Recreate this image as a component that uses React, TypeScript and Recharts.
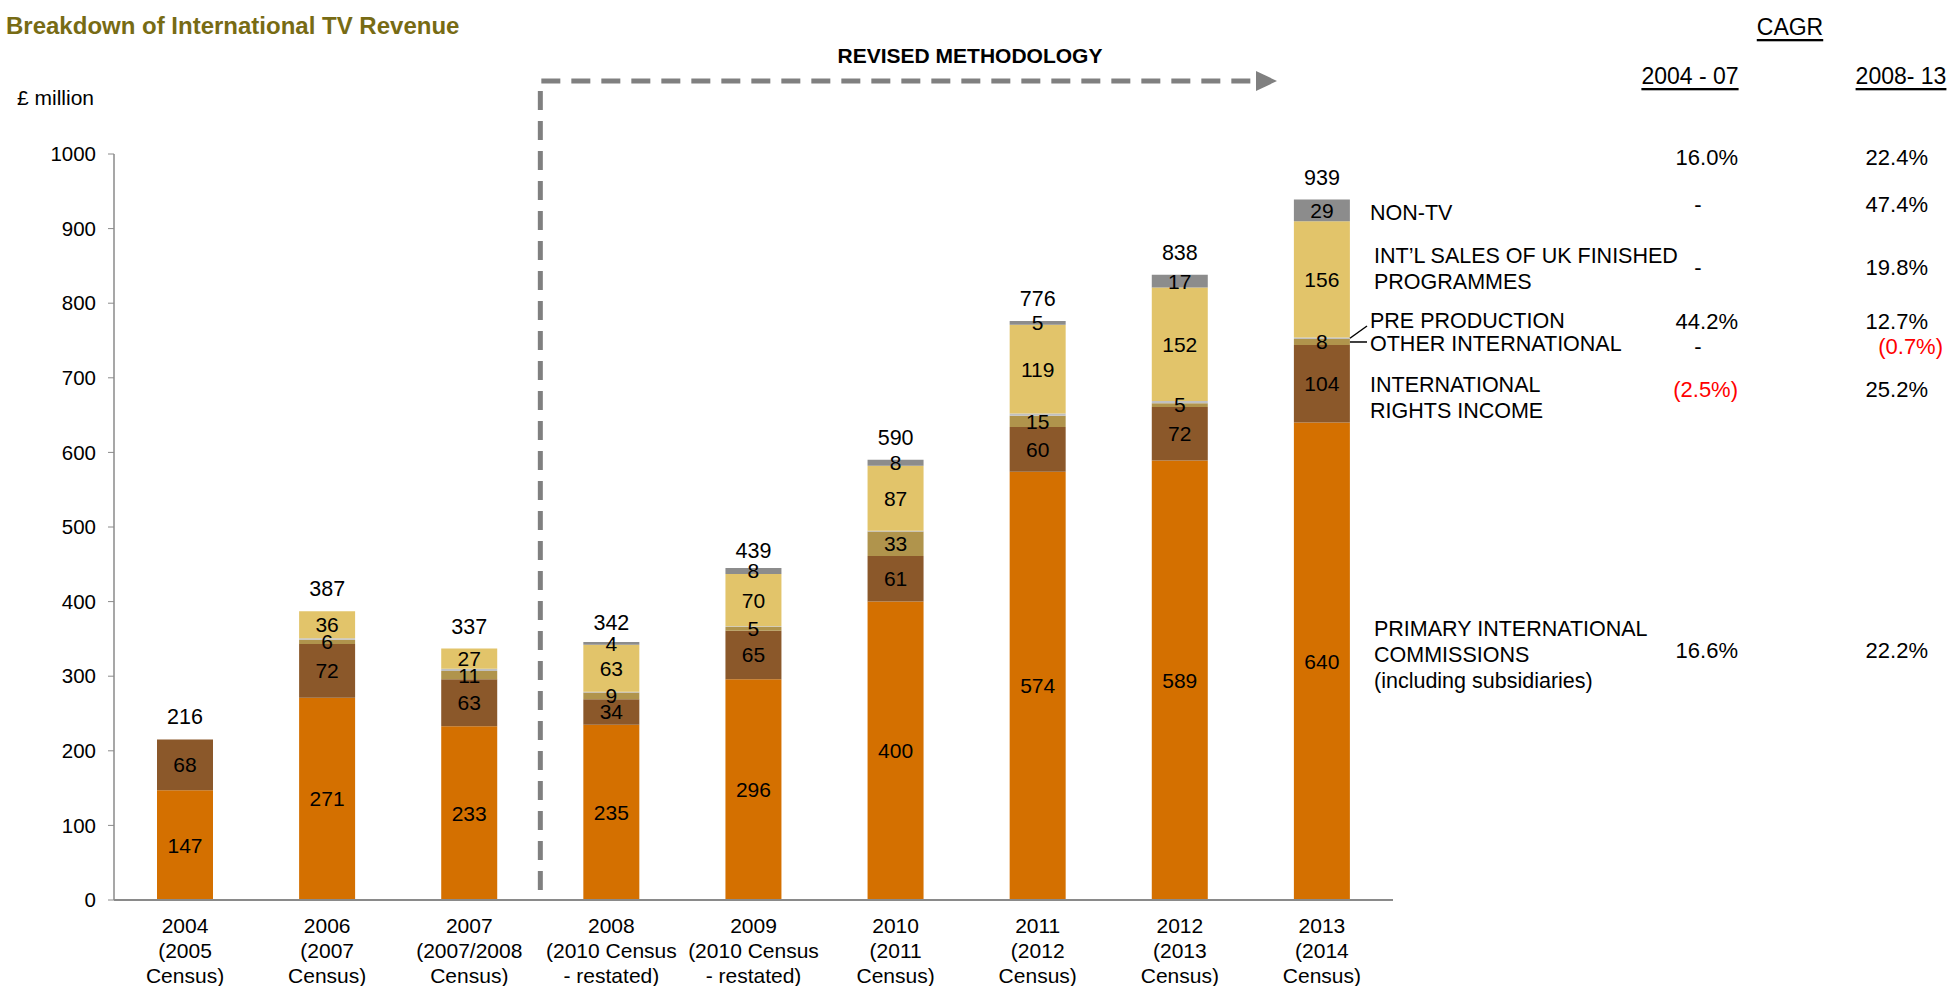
import { ComposedChart, Bar, Line, XAxis, YAxis, LabelList } from 'recharts'

// Revenue by year, £ million, stacked bottom to top
const years = ['2004', '2006', '2007', '2008', '2009', '2010', '2011', '2012', '2013']
const censusLine1 = ['(2005', '(2007', '(2007/2008', '(2010 Census', '(2010 Census', '(2011', '(2012', '(2013', '(2014']
const censusLine2 = ['Census)', 'Census)', 'Census)', '- restated)', '- restated)', 'Census)', 'Census)', 'Census)', 'Census)']

const primary = [147, 271, 233, 235, 296, 400, 574, 589, 640]
const rights = [68, 72, 63, 34, 65, 61, 60, 72, 104]
const otherIntl = [0, 6, 11, 9, 5, 33, 15, 5, 8]
const preProduction = [0, 2, 3, 1, 1, 1, 3, 3, 2]
const intlSales = [0, 36, 27, 63, 70, 87, 119, 152, 156]
const nonTv = [0, 0, 0, 4, 8, 8, 5, 17, 29]
const totals = [216, 387, 337, 342, 439, 590, 776, 838, 939]

const yTicks = [0, 100, 200, 300, 400, 500, 600, 700, 800, 900, 1000]

// CAGR side table
const cagrTotal = ['16.0%', '22.4%']
const cagrNonTv = ['-', '47.4%']
const cagrSales = ['-', '19.8%']
const cagrPre = ['44.2%', '12.7%']
const cagrOther = ['-', '(0.7%)']
const cagrRights = ['(2.5%)', '25.2%']
const cagrPrimary = ['16.6%', '22.2%']

const COLORS = {
  primary: '#d47000',
  rights: '#8b582a',
  other: '#b0944c',
  pre: '#c0c0c0',
  sales: '#e2c46a',
  nonTv: '#8c8c8c',
}

const W = 1949
const H = 986
const PLOT_LEFT = 114
const PLOT_RIGHT = 1393
const PLOT_TOP = 154
const PLOT_BOTTOM = 900
const BAR = 56
const FONT = '"Liberation Sans", Arial, sans-serif'

const data = years.map((y, i) => ({
  year: y,
  primary: primary[i],
  rights: rights[i],
  other: otherIntl[i],
  pre: preProduction[i],
  sales: intlSales[i],
  nonTv: nonTv[i],
  total: totals[i],
}))

const band = (PLOT_RIGHT - PLOT_LEFT) / years.length
const yOf = (v: number) => PLOT_BOTTOM - (v / 1000) * (PLOT_BOTTOM - PLOT_TOP)
const hideZero = (v: any) => (v ? v : '')

const CategoryTick = ({ x, y, payload }: any) => {
  const i = years.indexOf(payload.value)
  return (
    <text x={x} y={y} textAnchor="middle" fontSize={21} fill="#000" fontFamily={FONT}>
      <tspan x={x} dy={33}>{payload.value}</tspan>
      <tspan x={x} dy={25}>{censusLine1[i]}</tspan>
      <tspan x={x} dy={25}>{censusLine2[i]}</tspan>
    </text>
  )
}

const COL1 = 1738
const COL2 = 1928

function CagrRow({ y, vals }: { y: number; vals: string[] }) {
  const isNeg = (s: string) => s.startsWith('(')
  const cell = (s: string, right: number, center: number, hang: number) =>
    s === '-' ? (
      <text x={center} y={y} textAnchor="middle" fill="#000">-</text>
    ) : (
      <text x={isNeg(s) ? right + hang : right} y={y} textAnchor="end" fill={isNeg(s) ? '#ff0000' : '#000'}>{s}</text>
    )
  return (
    <g fontSize={22} dominantBaseline="central">
      {cell(vals[0], COL1, 1698, 0)}
      {cell(vals[1], COL2, 1888, 15)}
    </g>
  )
}

function Annotations() {
  const last = years.length - 1
  const barRight = PLOT_LEFT + (last + 0.5) * band + BAR / 2
  const preMid = yOf(primary[last] + rights[last] + otherIntl[last] + preProduction[last] / 2)
  const otherMid = yOf(primary[last] + rights[last] + otherIntl[last] / 2)
  const splitX = PLOT_LEFT + 3 * band
  return (
    <svg width={W} height={H} style={{ position: 'absolute', left: 0, top: 0, pointerEvents: 'none', fontFamily: FONT }}>
      <text x={6} y={25} fontSize={24} fontWeight="bold" fill="#776b14" dominantBaseline="central">
        Breakdown of International TV Revenue
      </text>
      <text x={17} y={97} fontSize={21} fill="#000" dominantBaseline="central">£ million</text>

      {/* revised methodology arrow */}
      <text x={970} y={55} fontSize={21} fontWeight="bold" textAnchor="middle" fill="#000" dominantBaseline="central">
        REVISED METHODOLOGY
      </text>
      <path d={`M${splitX},890 L${splitX},81 L1260,81`} fill="none" stroke="#808080" strokeWidth={5} strokeDasharray="19 11" />
      <path d="M1256,71 L1277,81 L1256,91 Z" fill="#808080" />

      {/* CAGR header */}
      <g fontSize={23} fill="#000" textAnchor="middle" dominantBaseline="central">
        <text x={1790} y={27} textDecoration="underline">CAGR</text>
        <text x={1690} y={76} textDecoration="underline">2004 - 07</text>
        <text x={1901} y={76} textDecoration="underline">2008- 13</text>
      </g>

      {/* segment names */}
      <g fontSize={21.5} fill="#000" dominantBaseline="central">
        <text x={1370} y={213}>NON-TV</text>
        <text x={1374} y={256}>INT’L SALES OF UK FINISHED</text>
        <text x={1374} y={282}>PROGRAMMES</text>
        <text x={1370} y={321}>PRE PRODUCTION</text>
        <text x={1370} y={344}>OTHER INTERNATIONAL</text>
        <text x={1370} y={385}>INTERNATIONAL</text>
        <text x={1370} y={411}>RIGHTS INCOME</text>
        <text x={1374} y={629}>PRIMARY INTERNATIONAL</text>
        <text x={1374} y={655}>COMMISSIONS</text>
        <text x={1374} y={681}>(including subsidiaries)</text>
      </g>
      <line x1={barRight} y1={preMid} x2={1367} y2={326} stroke="#000" strokeWidth={1.5} />
      <line x1={barRight} y1={otherMid} x2={1367} y2={otherMid} stroke="#000" strokeWidth={1.5} />

      <CagrRow y={157} vals={cagrTotal} />
      <CagrRow y={204} vals={cagrNonTv} />
      <CagrRow y={267} vals={cagrSales} />
      <CagrRow y={321} vals={cagrPre} />
      <CagrRow y={346} vals={cagrOther} />
      <CagrRow y={389} vals={cagrRights} />
      <CagrRow y={650} vals={cagrPrimary} />
    </svg>
  )
}

export default function App() {
  const seg = (key: string, color: string, label = true) => (
    <Bar dataKey={key} stackId="a" fill={color} barSize={BAR} isAnimationActive={false}>
      {label && <LabelList dataKey={key} position="center" fill="#000" fontSize={21} formatter={hideZero} />}
    </Bar>
  )
  return (
    <div style={{ position: 'absolute', left: 0, top: 0, width: W, height: H, background: '#fff', fontFamily: FONT }}>
      <ComposedChart width={W} height={H} data={data} margin={{ top: PLOT_TOP, right: W - PLOT_RIGHT, bottom: 0, left: 0 }}>
        <XAxis
          dataKey="year"
          height={H - PLOT_BOTTOM}
          tick={<CategoryTick />}
          tickLine={false}
          tickSize={0}
          tickMargin={0}
          axisLine={{ stroke: '#8a8a8a', strokeWidth: 2 }}
          interval={0}
        />
        <YAxis
          width={PLOT_LEFT}
          domain={[0, 1000]}
          ticks={yTicks}
          tick={{ fill: '#000', fontSize: 20.5 }}
          tickSize={6}
          tickMargin={12}
          tickLine={{ stroke: '#8a8a8a' }}
          axisLine={{ stroke: '#8a8a8a', strokeWidth: 1.5 }}
        />
        {seg('primary', COLORS.primary)}
        {seg('rights', COLORS.rights)}
        {seg('other', COLORS.other)}
        {seg('pre', COLORS.pre, false)}
        {seg('sales', COLORS.sales)}
        {seg('nonTv', COLORS.nonTv)}
        {/* invisible series carrying the total labels above each stack */}
        <Line
          dataKey="total"
          stroke="none"
          dot={false}
          activeDot={false}
          legendType="none"
          isAnimationActive={false}
        >
          <LabelList dataKey="total" position="top" offset={15} fill="#000" fontSize={21.5} />
        </Line>
      </ComposedChart>
      <Annotations />
    </div>
  )
}
